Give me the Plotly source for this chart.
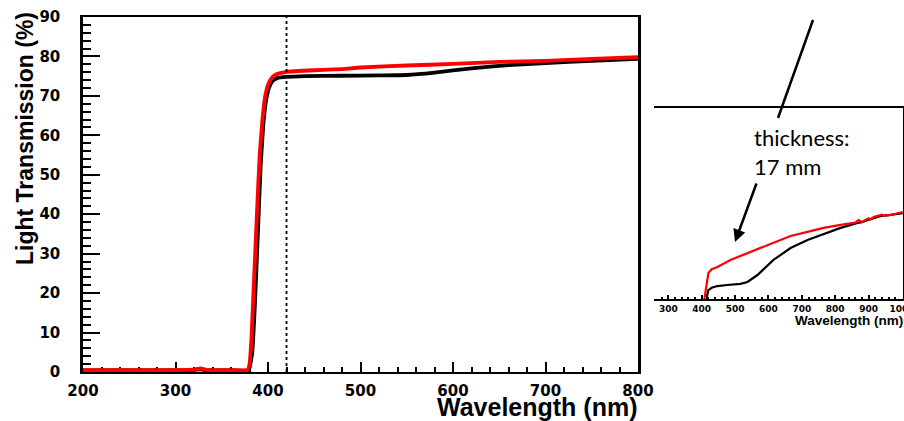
import plotly.graph_objects as go

W, H = 904, 421

# ---------------- main chart data ----------------
wl_black = [200, 250, 300, 320, 327, 335, 360, 378, 380, 383, 386, 389, 392, 395, 398, 401, 405, 410,
            420, 440, 480, 520, 550, 580, 620, 660, 700, 750, 800]
tr_black = [0.4, 0.4, 0.4, 0.5, 0.7, 0.4, 0.4, 0.4, 1.0, 5, 18, 35, 52, 63, 69, 72, 73.8, 74.5,
            74.8, 75.0, 75.1, 75.2, 75.3, 75.9, 77.0, 77.8, 78.3, 78.9, 79.4]

wl_red = [200, 250, 300, 320, 327, 335, 360, 378, 380, 382, 385, 388, 391, 394, 397, 400, 403, 407,
          412, 420, 450, 480, 500, 550, 600, 650, 700, 750, 800]
tr_red = [0.5, 0.5, 0.5, 0.6, 0.9, 0.5, 0.5, 0.5, 2, 8, 24, 40, 55, 64, 70, 72.8, 74.2, 75.2,
          75.7, 76.1, 76.5, 76.8, 77.2, 77.7, 78.1, 78.6, 78.9, 79.4, 79.8]

cut_wavelength = 420

# ---------------- inset chart data ----------------
in_wl_black = [414, 417, 420, 430, 447, 477, 516, 537, 567, 615, 666, 717, 765, 816, 867, 880, 900, 915, 940, 966, 1002]
in_tr_black = [0.0, 2.5, 4.2, 5.3, 6.1, 6.6, 7.1, 8.0, 11.3, 18.4, 24.0, 27.8, 30.6, 33.5, 35.8, 36.2, 37.4, 38.2, 39.2, 39.6, 40.5]

in_wl_red = [408, 411, 414, 420, 430, 447, 486, 516, 567, 615, 666, 717, 765, 816, 860, 870, 880, 900, 905, 915, 940, 945, 966, 1002]
in_tr_red = [0.0, 3.0, 5.7, 12.3, 14.0, 15.1, 18.4, 20.3, 23.6, 26.4, 29.7, 31.6, 33.5, 34.9, 36.0, 37.2, 36.3, 38.0, 37.4, 38.6, 39.7, 39.2, 39.6, 41.0]

main_xticks = [200, 300, 400, 500, 600, 700, 800]
main_yticks = [0, 10, 20, 30, 40, 50, 60, 70, 80, 90]
inset_xticks = [300, 400, 500, 600, 700, 800, 900, 1000]


def px(x):
    return x / W


def py(y):
    return (H - y) / H


fig = go.Figure()
fig.add_trace(go.Scatter(x=wl_black, y=tr_black, mode="lines",
                         line=dict(color="black", width=3.8, shape="spline", smoothing=0.4),
                         xaxis="x", yaxis="y", showlegend=False))
fig.add_trace(go.Scatter(x=wl_red, y=tr_red, mode="lines",
                         line=dict(color="#ff0000", width=3.8, shape="spline", smoothing=0.4),
                         xaxis="x", yaxis="y", showlegend=False))
fig.add_trace(go.Scatter(x=in_wl_black, y=in_tr_black, mode="lines",
                         line=dict(color="black", width=2.2),
                         xaxis="x2", yaxis="y2", showlegend=False))
fig.add_trace(go.Scatter(x=in_wl_red, y=in_tr_red, mode="lines",
                         line=dict(color="#ff0000", width=2.2),
                         xaxis="x2", yaxis="y2", showlegend=False))

tickbold = dict(family="DejaVu Sans, sans-serif", color="black", weight="bold")
bold = dict(family="Liberation Sans, Arial, sans-serif", color="black", weight="bold")

fig.update_layout(
    width=W, height=H, autosize=False,
    margin=dict(l=0, r=0, t=0, b=0, pad=0),
    paper_bgcolor="white", plot_bgcolor="white",
    xaxis=dict(domain=[px(83), px(638)], range=[200, 800], tickvals=main_xticks,
               ticktext=[str(v) for v in main_xticks], automargin=False,
               ticks="inside", ticklen=10, tickwidth=2, tickcolor="black",
               minor=dict(dtick=20, ticks="inside", ticklen=5, tickwidth=2, tickcolor="black"),
               showline=True, linecolor="black", linewidth=2, mirror=True,
               showgrid=False, zeroline=False, layer="below traces",
               tickfont=dict(size=15, **tickbold), ticklabelstandoff=4, anchor="y"),
    yaxis=dict(domain=[py(372), py(17)], range=[0, 90], tickvals=main_yticks,
               ticktext=[str(v) for v in main_yticks], automargin=False,
               ticks="inside", ticklen=17, tickwidth=2, tickcolor="black",
               minor=dict(dtick=2, ticks="inside", ticklen=8, tickwidth=2, tickcolor="black"),
               showline=True, linecolor="black", linewidth=2.5, mirror=True,
               showgrid=False, zeroline=False, layer="below traces",
               tickfont=dict(size=15, **tickbold), ticklabelstandoff=17, anchor="x"),
    xaxis2=dict(domain=[px(654), px(903)], range=[257, 1003], tickvals=inset_xticks,
                ticktext=[str(v) for v in inset_xticks], automargin=False,
                ticks="inside", ticklen=4, tickwidth=1.5, tickcolor="black",
                minor=dict(dtick=20, ticks="inside", ticklen=2.5, tickwidth=1.5, tickcolor="black"),
                showline=True, linecolor="black", linewidth=1.5, mirror=True,
                showgrid=False, zeroline=False, layer="below traces", ticklabeloverflow="allow",
                tickfont=dict(size=9, **tickbold), ticklabelstandoff=0, anchor="y2"),
    yaxis2=dict(domain=[py(299), py(108)], range=[0, 90], side="right", automargin=False,
                showticklabels=False, ticks="", showline=True, linecolor="black", linewidth=1.5,
                showgrid=False, zeroline=False, anchor="x2"),
)

# dashed cut line on main plot
fig.add_shape(type="line", xref="x", yref="y", x0=cut_wavelength, x1=cut_wavelength, y0=0, y1=90,
              line=dict(color="black", width=1.8, dash="3px,3px"), layer="above")

# axis titles
fig.add_annotation(text="Light Transmission (%)", xref="paper", yref="paper",
                   x=px(25), y=py(139), xanchor="center", yanchor="middle", textangle=-90,
                   showarrow=False, font=dict(size=23, **bold))
fig.add_annotation(text="Wavelength (nm)", xref="paper", yref="paper",
                   x=px(639), y=py(407), xanchor="right", yanchor="middle",
                   showarrow=False, font=dict(size=25, **bold))
fig.add_annotation(text="Wavelength (nm)", xref="paper", yref="paper",
                   x=px(905), y=py(320), xanchor="right", yanchor="middle",
                   showarrow=False, font=dict(size=13.5, **bold))

# thickness note and arrows
fig.add_annotation(text="thickness:<br>17 mm", xref="paper", yref="paper",
                   x=px(752), y=py(152), xanchor="left", yanchor="middle", align="left",
                   showarrow=False, font=dict(size=22, family="Lato, Open Sans, sans-serif", color="black"))
fig.add_shape(type="line", xref="paper", yref="paper", x0=px(813), y0=py(20), x1=px(778), y1=py(118),
              line=dict(color="black", width=2.5))
fig.add_annotation(text="", xref="paper", yref="paper", x=px(735), y=py(242),
                   ax=22, ay=-60, showarrow=True, arrowhead=2, arrowsize=1, arrowwidth=2.5,
                   arrowcolor="black")

fig.write_html("out.html", config={"displayModeBar": False},
               post_script="document.body.style.margin='0px';document.body.style.padding='0px';")
